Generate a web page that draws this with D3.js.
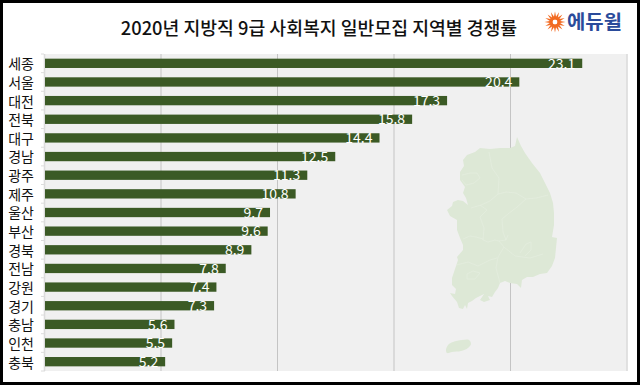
<!DOCTYPE html>
<html>
<head>
<meta charset="utf-8">
<script src="https://cdn.jsdelivr.net/npm/d3@7"></script>
<style>
  html, body { margin: 0; padding: 0; background: #fff; }
  svg { display: block; font-family: "Noto Sans CJK KR", sans-serif; }
</style>
</head>
<body>
<svg id="vis"></svg>
<script>
/* Datos */
const regions = ["세종", "서울", "대전", "전북", "대구", "경남", "광주", "제주", "울산", "부산", "경북", "전남", "강원", "경기", "충남", "인천", "충북"];
const rates = [23.1, 20.4, 17.3, 15.8, 14.4, 12.5, 11.3, 10.8, 9.7, 9.6, 8.9, 7.8, 7.4, 7.3, 5.6, 5.5, 5.2];
const xTicks = [0, 5, 10, 15, 20, 25];
const CHART_TITLE = "2020년 지방직 9급 사회복지 일반모집 지역별 경쟁률";
const LOGO_TEXT = "에듀윌";

// Silueta del mapa, en pixeles de la imagen
const mainland = [[517,137],[521,146],[525,153],[532,163],[540,173],[545,183],[550,193],[553,203],[554,213],[554,225],[552,237],[557,238],[556,248],[555,258],[552,266],[547,273],[540,274],[533,277],[527,277],[522,280],[521,288],[517,284],[510,283],[505,281],[500,283],[498,288],[495,292],[492,297],[488,296],[490,300],[484,302],[480,300],[484,294],[476,298],[472,301],[468,303],[467,309],[465,305],[463,309],[459,308],[457,302],[452,296],[450,293],[455,294],[456,289],[452,285],[452,278],[455,269],[458,260],[457,257],[463,250],[463,245],[460,238],[457,230],[457,220],[450,216],[447,210],[452,206],[453,202],[458,200],[463,201],[468,205],[466,198],[463,193],[465,187],[460,180],[460,172],[464,166],[463,160],[467,155],[475,152],[480,148],[490,149],[500,148],[510,148],[515,146]];
const jeju = [[446,350],[448,345],[453,342],[462,340],[469,340],[471,344],[468,348],[461,351],[452,352],[447,353]];
const borders = [
  [[489,152],[492,168],[499,178],[498,194]],
  [[498,194],[506,192],[516,193],[526,199],[536,198],[548,195]],
  [[498,194],[490,201],[481,205],[471,208]],
  [[526,199],[517,207],[508,214],[502,219],[503,232],[506,240]],
  [[480,205],[487,210],[480,217],[484,228],[483,240],[488,242]],
  [[488,242],[495,240],[499,241],[506,240],[508,235]],
  [[463,239],[470,236],[476,237],[483,239]],
  [[499,241],[504,247],[498,257],[496,268],[500,283]],
  [[504,247],[515,256],[530,258],[543,254]],
  [[456,265],[468,262],[478,266],[490,260],[497,258]],
  [[462,175],[470,173],[477,173],[480,178],[474,183],[466,185],[462,180]],
  [[467,274],[473,271],[480,273],[475,279],[467,279],[467,274]],
  [[520,253],[526,244],[531,242],[531,250],[525,256]]
];

/* Constantes */
const WIDTH = 640;
const HEIGHT = 385;
const MARGIN = { top: 54, left: 44, bottom: 14, right: 13.5 };
const HEIGHTVIS = HEIGHT - MARGIN.top - MARGIN.bottom;
const WIDTHVIS = WIDTH - MARGIN.left - MARGIN.right;

const svg = d3.select("#vis")
  .attr("width", WIDTH)
  .attr("height", HEIGHT);

svg.append("rect")
  .attr("width", WIDTH)
  .attr("height", HEIGHT)
  .attr("fill", "#fff");

const xScale = d3.scaleLinear()
  .domain([0, 25])
  .range([0, WIDTHVIS]);

const yScale = d3.scaleBand()
  .domain(regions)
  .range([0, HEIGHTVIS])
  .paddingInner(0.5)
  .paddingOuter(0.25);

const chart = svg.append("g")
  .attr("transform", `translate(${MARGIN.left} ${MARGIN.top})`);

// Fondo del grafico
chart.append("rect")
  .attr("width", WIDTHVIS)
  .attr("height", HEIGHTVIS)
  .attr("fill", "#f0f0f0");

// Lineas verticales
const axisX = d3.axisBottom(xScale)
  .tickValues(xTicks)
  .tickSize(-HEIGHTVIS)
  .tickFormat("");

chart.append("g")
  .attr("id", "axis-x")
  .attr("transform", `translate(0 ${HEIGHTVIS})`)
  .call(axisX)
  .call(g => g.select(".domain").remove())
  .call(g => g.selectAll("line").attr("stroke", "#c4c4c4").attr("stroke-width", 1))
  .call(g => g.selectAll(".tick").filter(d => d === 0 || d === 25).select("line").attr("stroke", "#d8d8d8").attr("stroke-width", 1.5));

// Mapa
const map = svg.append("g");
map.append("path")
  .attr("d", d3.line().curve(d3.curveLinearClosed)(mainland))
  .attr("fill", "#dde8d6");
map.append("path")
  .attr("d", d3.line().curve(d3.curveCatmullRomClosed)(jeju))
  .attr("fill", "#dde8d6");
map.selectAll(".border")
  .data(borders)
  .join("path")
  .attr("class", "border")
  .attr("d", d3.line())
  .attr("fill", "none")
  .attr("stroke", "#e6eee1")
  .attr("stroke-width", 0.6);

// Barras
chart.selectAll(".bar")
  .data(rates)
  .join("rect")
  .attr("class", "bar")
  .attr("x", 0)
  .attr("y", (d, i) => yScale(regions[i]))
  .attr("width", d => xScale(d))
  .attr("height", yScale.bandwidth())
  .attr("fill", "#3b5a25");

// Valores
chart.selectAll(".value")
  .data(rates)
  .join("text")
  .attr("class", "value")
  .attr("x", d => xScale(d) - 7)
  .attr("y", (d, i) => yScale(regions[i]) + yScale.bandwidth() + 0.5)
  .attr("text-anchor", "end")
  .attr("font-size", 14)
  .attr("fill", "#fff")
  .text(d => d.toFixed(1));

// Eje y
const axisY = d3.axisLeft(yScale).tickSize(0).tickPadding(10);
chart.append("g")
  .attr("id", "axis-y")
  .call(axisY)
  .call(g => g.select(".domain").attr("stroke", "#dcdcdc"))
  .call(g => g.selectAll("text").attr("font-size", 14).attr("dy", "0.42em").attr("fill", "#111").attr("font-family", "'Noto Sans CJK KR'"));

// Marcas entre categorias
chart.append("g")
  .selectAll("line")
  .data(d3.range(regions.length + 1))
  .join("line")
  .attr("x1", -3)
  .attr("x2", 0)
  .attr("y1", i => i * yScale.step())
  .attr("y2", i => i * yScale.step())
  .attr("stroke", "#dcdcdc");

// Titulo
svg.append("text")
  .attr("x", 319)
  .attr("y", 35)
  .attr("text-anchor", "middle")
  .attr("font-size", 18.3)
  .attr("font-weight", 500)
  .attr("fill", "#111")
  .text(CHART_TITLE);

// Logo
const logo = svg.append("g").attr("transform", "translate(555 22)");
logo.selectAll("path")
  .data(d3.range(16))
  .join("path")
  .attr("d", "M-1.6 -2.5L0 -10.5L1.6 -2.5Z")
  .attr("transform", d => `rotate(${d * 22.5})`)
  .attr("fill", "#f26a21");
svg.append("text")
  .attr("x", 567)
  .attr("y", 29)
  .attr("font-size", 19)
  .attr("font-weight", 700)
  .attr("fill", "#2a4b9b")
  .attr("textLength", 55)
  .attr("lengthAdjust", "spacingAndGlyphs")
  .text(LOGO_TEXT);

// Borde negro
svg.append("rect")
  .attr("x", 1.5)
  .attr("y", 1.5)
  .attr("width", WIDTH - 3)
  .attr("height", HEIGHT - 3)
  .attr("fill", "none")
  .attr("stroke", "#000")
  .attr("stroke-width", 3);
</script>
</body>
</html>
